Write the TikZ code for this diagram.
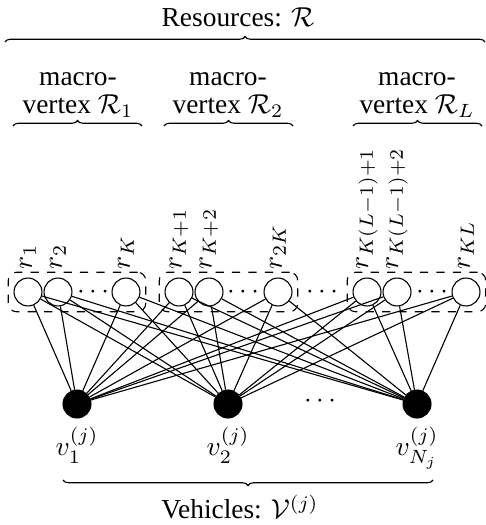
\documentclass[tikz,border=0pt]{standalone}
\usepackage[no-math]{fontspec}
\setmainfont{Liberation Serif}
\usetikzlibrary{decorations.pathreplacing,fit}
\begin{document}
\begin{tikzpicture}[x=0.365pt,y=-0.365pt,
  res/.style={circle,draw,line width=0.4pt,minimum size=10.2pt,inner sep=0pt},
  veh/.style={circle,fill=black,draw,minimum size=10.2pt,inner sep=0pt},
  grp/.style={draw,dashed,rounded corners=3pt,inner sep=1.9pt},
  rlab/.style={rotate=90,anchor=west,inner sep=2.8pt},
  vlab/.style={anchor=north,inner sep=3pt},
  brc/.style={decorate,decoration={brace,amplitude=2pt}},
  brcm/.style={decorate,decoration={brace,amplitude=2pt,mirror}},
  mtxt/.style={align=center,font={\fontsize{10}{10.3}\selectfont}},
  conn/.style={line width=0.4pt}]
\useasboundingbox (0,0) rectangle (485,525);
% resources
\node[res] (r1) at (28,292) {};
\node[res] (r2) at (58,292) {};
\node[res] (r3) at (126,292) {};
\node[res] (r4) at (179,292) {};
\node[res] (r5) at (209,292) {};
\node[res] (r6) at (278,292) {};
\node[res] (r7) at (367,292) {};
\node[res] (r8) at (397,292) {};
\node[res] (r9) at (466,292) {};
\node (d1) at (93,292) {$\cdots$};
\node (d2) at (243,292) {$\cdots$};
\node (d3) at (322,292) {$\cdots$};
\node (d4) at (432,292) {$\cdots$};
\node[grp,fit=(r1)(r3)] (g1) {};
\node[grp,fit=(r4)(r6)] (g2) {};
\node[grp,fit=(r7)(r9)] (g3) {};
% resource labels
\node[rlab] (l1) at (r1.north) {$r_1$};
\node[rlab] (l2) at (r2.north) {$r_2$};
\node[rlab] (l3) at (r3.north) {$r_K$};
\node[rlab] (l4) at (r4.north) {$r_{K+1}$};
\node[rlab] (l5) at (r5.north) {$r_{K+2}$};
\node[rlab] (l6) at (r6.north) {$r_{2K}$};
\node[rlab] (l7) at (r7.north) {$r_{K(L-1)+1}$};
\node[rlab] (l8) at (r8.north) {$r_{K(L-1)+2}$};
\node[rlab] (l9) at (r9.north) {$r_{KL}$};
% vehicles
\node[veh] (v1) at (77,404) {};
\node[veh] (v2) at (228,404) {};
\node[veh] (v3) at (417,404) {};
\node (dv) at (320,401) {$\cdots$};
\node[vlab] (lv1) at (v1.south) {$v_1^{(j)}$};
\node[vlab] (lv2) at (v2.south) {$v_2^{(j)}$};
\node[vlab] (lv3) at (v3.south) {$v_{N_j}^{(j)}$};
% edges
\foreach \r in {r1,r2,r3,r4,r5,r6,r7,r8,r9}
  \foreach \v in {v1,v2,v3}
    \draw[conn] (\r) -- (\v);
% braces and titles
\coordinate (bA) at (5,42);
\coordinate (bB) at (485,42);
\draw[brc] (bA) -- (bB);
\node (tres) at (238,17) {Resources: $\mathcal{R}$};
\coordinate (m1a) at (13,126);
\coordinate (m1b) at (142,126);
\coordinate (m2a) at (164,126);
\coordinate (m2b) at (293,126);
\coordinate (m3a) at (353,126);
\coordinate (m3b) at (482,126);
\draw[brc] (m1a) -- (m1b);
\draw[brc] (m2a) -- (m2b);
\draw[brc] (m3a) -- (m3b);
\node[mtxt] (t1) at (78,95) {macro-\\vertex $\mathcal{R}_1$};
\node[mtxt] (t2) at (228,95) {macro-\\vertex $\mathcal{R}_2$};
\node[mtxt] (t3) at (417,95) {macro-\\vertex $\mathcal{R}_L$};
\coordinate (vbA) at (63,480);
\coordinate (vbB) at (433,480);
\draw[brcm] (vbA) -- (vbB);
\node (tveh) at (240,507) {Vehicles: $\mathcal{V}^{(j)}$};
\end{tikzpicture}
\end{document}
